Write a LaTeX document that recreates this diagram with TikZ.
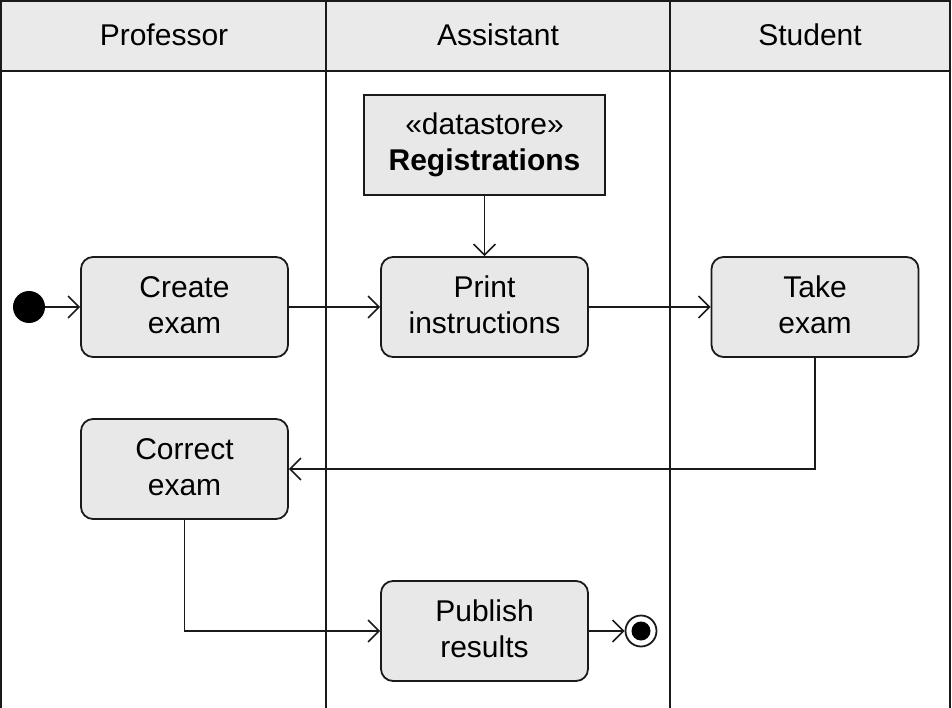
\documentclass[tikz,border=0pt]{standalone}
\usepackage{fontspec}
\setmainfont{Liberation Sans}
\usetikzlibrary{arrows.meta}
\definecolor{boxfill}{HTML}{E8E8E8}
\definecolor{hdrfill}{HTML}{EAEAEA}
\definecolor{edge}{HTML}{1A1A1A}
\begin{document}
\begin{tikzpicture}[x=1pt,y=-1pt,
  every node/.style={font=\fontsize{30}{36}\selectfont},
  action/.style={draw=edge,line width=1.8pt,fill=boxfill,rounded corners=12pt,
    minimum width=207pt,minimum height=100pt,align=center,inner sep=0pt,text depth=4pt},
  store/.style={draw=edge,line width=1.8pt,fill=boxfill,
    minimum width=241pt,minimum height=100pt,align=center,inner sep=0pt},
  flow/.style={draw=edge,line width=1.5pt,-{Straight Barb[length=11pt,width=22pt,line width=1.5pt]}},
  lane/.style={draw=edge,line width=1.8pt}]
\useasboundingbox (0,0) rectangle (952,708);
% header
\fill[hdrfill] (1,1) rectangle (950,71);
\draw[lane] (1,708) -- (1,1) -- (950,1) -- (950,708);
\draw[lane] (1,71) -- (950,71);
\draw[lane] (326,1) -- (326,708);
\draw[lane] (670,1) -- (670,708);
\node (hP) at (164,35) {Professor};
\node (hA) at (498,35) {Assistant};
\node (hS) at (810,35) {Student};
% nodes
\node[circle,fill=black,minimum size=32pt,inner sep=0pt] (init) at (29,307) {};
\node[action] (create) at (184.5,307) {Create\\exam};
\node[action] (print) at (484.5,307) {Print\\instructions};
\node[action] (take) at (815,307) {Take\\exam};
\node[action] (correct) at (184.5,469) {Correct\\exam};
\node[action] (publish) at (484.5,631) {Publish\\results};
\node[store] (reg) at (484.5,145) {«datastore»\\\textbf{Registrations}};
\node[circle,draw=edge,line width=1.8pt,fill=white,minimum size=31pt,inner sep=0pt] (final) at (641,631) {};
\node[circle,fill=black,minimum size=19pt,inner sep=0pt] (finaldot) at (final.center) {};
% edges
\draw[flow] (init) -- (create);
\draw[flow] (create) -- (print);
\draw[flow] (print) -- (take);
\draw[flow] (reg) -- (print);
\draw[flow] (take.south) |- (correct.east);
\draw[flow] (correct.south) |- (publish.west);
\draw[flow] (publish) -- (final);
\end{tikzpicture}
\end{document}
